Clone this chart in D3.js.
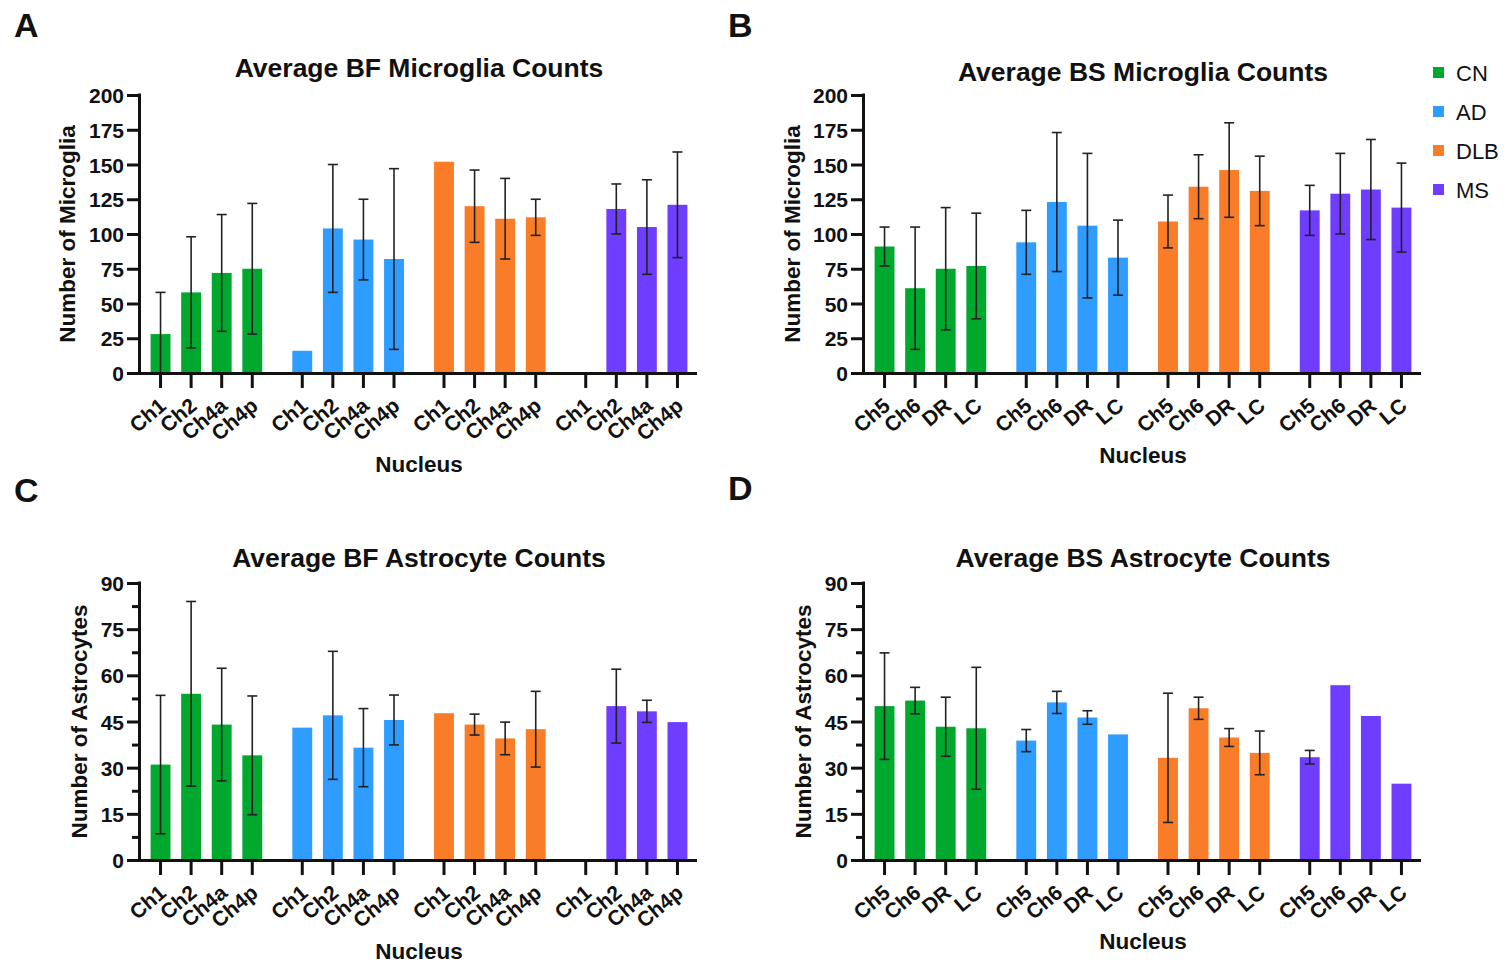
<!DOCTYPE html>
<html><head><meta charset="utf-8">
<script src="https://cdn.jsdelivr.net/npm/d3@7"></script>
<style>
html,body{margin:0;padding:0;background:#fff;}
svg text{font-family:"Liberation Sans",Arial,Helvetica,sans-serif;fill:#111;}
</style></head>
<body>
<svg id="chart" width="1511" height="973"></svg>
<script>
// ---------- DATA ----------
const groups = ["CN", "AD", "DLB", "MS"];
const bfNuclei = ["Ch1", "Ch2", "Ch4a", "Ch4p"];
const bsNuclei = ["Ch5", "Ch6", "DR", "LC"];

const microgliaTicks = [0, 25, 50, 75, 100, 125, 150, 175, 200];
const astrocyteTicks = [0, 15, 30, 45, 60, 75, 90];
const astrocyteMinorTicks = [7.5, 22.5, 37.5, 52.5, 67.5, 82.5];

// Average BF microglia (rows = groups CN, AD, DLB, MS; cols = nuclei)
const bfMicrogliaMean = [[28, 58, 72, 75], [16, 104, 96, 82], [152, 120, 111, 112], [null, 118, 105, 121]];
const bfMicrogliaErr  = [[30, 40, 42, 47], [null, 46, 29, 65], [null, 26, 29, 13], [null, 18, 34, 38]];

// Average BS microglia
const bsMicrogliaMean = [[91, 61, 75, 77], [94, 123, 106, 83], [109, 134, 146, 131], [117, 129, 132, 119]];
const bsMicrogliaErr  = [[14, 44, 44, 38], [23, 50, 52, 27], [19, 23, 34, 25], [18, 29, 36, 32]];

// Average BF astrocytes
const bfAstroMean = [[31, 54, 44, 34], [43, 47, 36.5, 45.5], [47.7, 44, 39.5, 42.5], [null, 50, 48.3, 44.8]];
const bfAstroErr  = [[22.5, 30, 18.3, 19.3], [null, 20.8, 12.7, 8.1], [null, 3.4, 5.3, 12.3], [null, 12, 3.6, null]];

// Average BS astrocytes
const bsAstroMean = [[50, 51.8, 43.3, 42.8], [38.8, 51.2, 46.3, 40.8], [33.2, 49.3, 39.8, 34.8], [33.4, 56.8, 46.8, 24.8]];
const bsAstroErr  = [[17.3, 4.3, 9.6, 19.8], [3.6, 3.6, 2.2, null], [21, 3.6, 2.9, 7.1], [2.2, null, null, null]];

const groupColors = ["#00a82e", "#2e9dff", "#f97c28", "#6e3dff"];

// ---------- LAYOUT ----------
const panels = [
  {letter:"A", title:"Average BF Microglia Counts", ylab:"Number of Microglia", nuclei:bfNuclei,
   mean:bfMicrogliaMean, err:bfMicrogliaErr, ticks:microgliaTicks, minor:null, max:200,
   x0:141, x1:697, y0:95, y1:373, titleY:77, letterX:14, letterY:37, nucY:472, ylabX:75},
  {letter:"B", title:"Average BS Microglia Counts", ylab:"Number of Microglia", nuclei:bsNuclei,
   mean:bsMicrogliaMean, err:bsMicrogliaErr, ticks:microgliaTicks, minor:null, max:200,
   x0:865, x1:1421, y0:95, y1:373, titleY:81, letterX:728, letterY:37, nucY:463, ylabX:800},
  {letter:"C", title:"Average BF Astrocyte Counts", ylab:"Number of Astrocytes", nuclei:bfNuclei,
   mean:bfAstroMean, err:bfAstroErr, ticks:astrocyteTicks, minor:astrocyteMinorTicks, max:90,
   x0:141, x1:697, y0:583, y1:860, titleY:567, letterX:14, letterY:502, nucY:959, ylabX:87},
  {letter:"D", title:"Average BS Astrocyte Counts", ylab:"Number of Astrocytes", nuclei:bsNuclei,
   mean:bsAstroMean, err:bsAstroErr, ticks:astrocyteTicks, minor:astrocyteMinorTicks, max:90,
   x0:865, x1:1421, y0:583, y1:860, titleY:567, letterX:728, letterY:500, nucY:949, ylabX:811}
];

const svg = d3.select("#chart");

panels.forEach(p => {
  const g = svg.append("g");
  const y = d3.scaleLinear().domain([0, p.max]).range([p.y1, p.y0]);
  const xg = d3.scaleBand().domain(groups).range([p.x0, p.x1]).paddingInner(0.137).paddingOuter(0.03);
  const xn = d3.scaleBand().domain(p.nuclei).range([0, xg.bandwidth()]).paddingInner(0.35).paddingOuter(0.175);

  // panel letter
  g.append("text").attr("x", p.letterX).attr("y", p.letterY)
    .attr("font-size", 34).attr("font-weight", "bold").attr("fill", "#222").text(p.letter);

  // title
  g.append("text").attr("x", (p.x0 + p.x1) / 2).attr("y", p.titleY)
    .attr("text-anchor", "middle").attr("font-size", 26.5).attr("font-weight", "bold").text(p.title);

  // bars
  const rows = [];
  groups.forEach((grp, gi) => p.nuclei.forEach((nu, ni) => {
    rows.push({grp, gi, nu, mean: p.mean[gi][ni], err: p.err[gi][ni]});
  }));
  const cx = d => xg(d.grp) + xn(d.nu) + xn.bandwidth() / 2;

  g.selectAll("rect.bar").data(rows.filter(d => d.mean != null)).join("rect")
    .attr("class", "bar")
    .attr("x", d => xg(d.grp) + xn(d.nu))
    .attr("width", xn.bandwidth())
    .attr("y", d => y(d.mean))
    .attr("height", d => y(0) - y(d.mean))
    .attr("fill", d => groupColors[d.gi]);

  // error bars
  const eb = rows.filter(d => d.mean != null && d.err != null);
  const capW = 5;
  g.selectAll("line.ev").data(eb).join("line")
    .attr("x1", cx).attr("x2", cx)
    .attr("y1", d => y(d.mean + d.err))
    .attr("y2", d => y(Math.max(0, d.mean - d.err)))
    .attr("stroke", "#222").attr("stroke-width", 1.6);
  g.selectAll("line.cap-top").data(eb).join("line")
    .attr("x1", d => cx(d) - capW).attr("x2", d => cx(d) + capW)
    .attr("y1", d => y(d.mean + d.err)).attr("y2", d => y(d.mean + d.err))
    .attr("stroke", "#222").attr("stroke-width", 1.6);
  g.selectAll("line.cap-bot").data(eb.filter(d => d.mean - d.err > 0)).join("line")
    .attr("x1", d => cx(d) - capW).attr("x2", d => cx(d) + capW)
    .attr("y1", d => y(d.mean - d.err)).attr("y2", d => y(d.mean - d.err))
    .attr("stroke", "#222").attr("stroke-width", 1.6);

  // y axis
  const ya = g.append("g").attr("transform", `translate(${p.x0},0)`)
    .call(d3.axisLeft(y).tickValues(p.ticks).tickSize(14).tickSizeOuter(0).tickPadding(3));
  ya.select(".domain").remove();
  ya.selectAll(".tick line").attr("stroke", "#111").attr("stroke-width", 3);
  ya.selectAll(".tick text").attr("font-size", 21).attr("font-weight", "bold")
    .attr("font-family", "Liberation Sans, Arial, sans-serif").attr("fill", "#111").attr("dy", "0.36em");
  if (p.minor) {
    const ym = g.append("g").attr("transform", `translate(${p.x0},0)`)
      .call(d3.axisLeft(y).tickValues(p.minor).tickSize(9).tickFormat(""));
    ym.select(".domain").remove();
    ym.selectAll(".tick line").attr("stroke", "#111").attr("stroke-width", 3);
  }
  g.append("line").attr("x1", p.x0 - 1.5).attr("x2", p.x0 - 1.5)
    .attr("y1", y(p.max) - 1.5).attr("y2", y(0) + 1.5)
    .attr("stroke", "#111").attr("stroke-width", 3);

  // x axis line
  g.append("line").attr("x1", p.x0 - 3).attr("x2", p.x1)
    .attr("y1", y(0) + 0.5).attr("y2", y(0) + 0.5)
    .attr("stroke", "#111").attr("stroke-width", 3);

  // x ticks
  g.selectAll("line.xt").data(rows).join("line")
    .attr("x1", cx).attr("x2", cx)
    .attr("y1", y(0)).attr("y2", y(0) + 15)
    .attr("stroke", "#111").attr("stroke-width", 3);
  g.selectAll("text.xl").data(rows).join("text")
    .attr("transform", d => `translate(${cx(d) + 7},${y(0) + 35}) rotate(-40)`)
    .attr("text-anchor", "end").attr("font-size", 21).attr("font-weight", "bold")
    .text(d => d.nu);

  // axis titles
  g.append("text").attr("x", (p.x0 + p.x1) / 2).attr("y", p.nucY)
    .attr("text-anchor", "middle").attr("font-size", 22.5).attr("font-weight", "bold").text("Nucleus");
  g.append("text")
    .attr("transform", `translate(${p.ylabX},${(p.y0 + p.y1) / 2}) rotate(-90)`)
    .attr("text-anchor", "middle").attr("font-size", 22.5).attr("font-weight", "bold").text(p.ylab);
});

// legend
const lg = svg.append("g");
groups.forEach((grp, i) => {
  lg.append("rect").attr("x", 1433).attr("y", 67 + i * 39).attr("width", 11).attr("height", 11)
    .attr("fill", groupColors[i]);
  lg.append("text").attr("x", 1456).attr("y", 81 + i * 39).attr("font-size", 22).text(grp);
});
</script>
</body></html>
